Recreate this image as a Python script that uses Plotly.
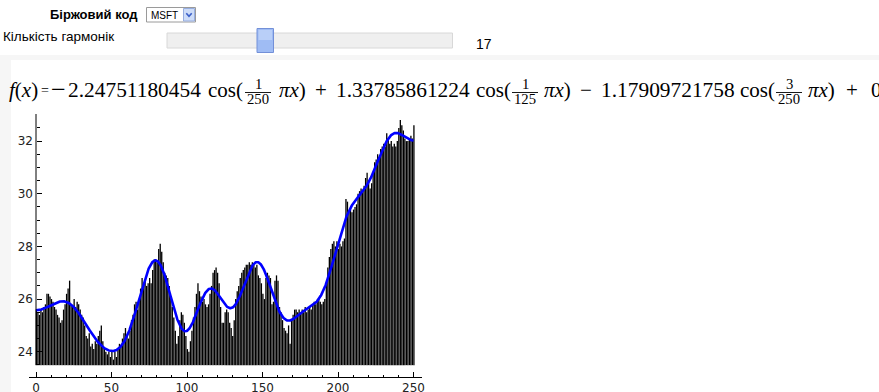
import numpy as np
import plotly.graph_objects as go

# ---------------- data ----------------
symbols = ["MSFT"]
harmonics = 17
prices = [
    25.6, 25.5, 25.4, 25.6, 25.5, 25.7, 25.8, 26.2, 26.2, 26.1,
    26.0, 25.9, 25.7, 25.6, 25.4, 25.3, 25.1, 25.2, 25.6, 25.8,
    26.2, 26.4, 26.7, 25.8, 25.7, 26.0, 25.7, 25.9, 25.8, 25.6,
    25.4, 25.3, 25.0, 24.6, 24.5, 24.7, 24.2, 24.3, 24.1, 24.4,
    24.3, 24.6, 24.8, 25.0, 24.4, 24.1, 24.0, 23.9, 24.0, 23.8,
    24.0, 23.7, 24.0, 23.8, 24.1, 24.3, 24.2, 24.5, 24.7, 24.9,
    24.6, 24.5, 24.8, 25.2, 25.4, 25.8, 25.9, 25.6, 26.0, 26.4,
    26.8, 26.6, 26.7, 26.5, 26.6, 26.8, 26.6, 27.1, 27.5, 27.5,
    27.4, 27.9, 28.1, 27.8, 27.4, 27.0, 26.9, 26.8, 26.5, 26.0,
    25.7, 25.3, 24.8, 24.3, 24.6, 25.2, 25.5, 25.4, 25.1, 24.6,
    24.1, 24.0, 24.4, 24.8, 25.3, 25.7, 26.2, 26.6, 26.3, 26.1,
    25.9, 26.0, 25.8, 25.7, 25.8, 26.2, 26.5, 27.0, 27.1, 27.2,
    27.0, 26.6, 25.7, 25.1, 25.1, 25.5, 25.6, 25.5, 25.1, 24.9,
    24.6, 25.2, 26.0, 26.3, 26.5, 26.8, 27.0, 27.1, 27.2, 27.3,
    27.3, 27.4, 27.3, 27.4, 27.3, 27.2, 27.3, 26.9, 26.8, 26.6,
    26.2, 26.0, 26.8, 27.0, 26.9, 26.8, 25.8, 25.9, 26.7, 26.9,
    26.7, 25.7, 25.5, 25.2, 24.9, 24.8, 24.7, 25.0, 24.3, 25.2,
    25.4, 25.6, 25.6, 25.5, 25.6, 25.5, 25.6, 25.5, 25.7, 25.5,
    25.6, 25.7, 25.6, 25.8, 25.9, 25.8, 25.9, 26.0, 25.9, 25.8,
    25.9, 26.0, 26.6, 27.2, 27.6, 27.9, 28.1, 28.2, 28.0, 28.2,
    27.9, 28.1, 28.0, 28.2, 28.3, 29.8, 29.7, 29.3, 29.4, 29.3,
    29.4, 29.5, 29.6, 30.0, 30.1, 30.2, 30.1, 30.3, 30.6, 30.8,
    30.5, 30.2, 30.4, 30.8, 31.2, 31.3, 31.5, 31.4, 31.7, 31.8,
    31.9, 31.8, 32.3, 32.1, 31.9, 32.0, 31.8, 31.9, 31.8, 32.0,
    32.5, 32.8, 32.6, 32.4, 32.1, 32.0, 32.0, 32.1, 32.2, 32.1,
    32.6,
]
x_ticks = [0, 50, 100, 150, 200, 250]
y_ticks = [24, 26, 28, 30, 32]
coef_text = ["2.24751180454", "1.33785861224", "1.17909721758"]
frac_num = ["1", "1", "3"]
frac_den = ["250", "125", "250"]
labels = {"symbol": "Біржовий код", "harm": "Кількість гармонік"}

# ---------------- Fourier cosine partial sum of the step function ----------------
L = 250.0
v = np.array(prices[:250], dtype=float)
idx = np.arange(len(v))
a0 = 2.0 / L * v.sum()
xs = np.linspace(0, L, 1201)
fit = np.full_like(xs, a0 / 2.0)
for n in range(1, harmonics + 1):
    k = n * np.pi / L
    an = 2.0 / (n * np.pi) * np.sum(v * (np.sin(k * (idx + 1)) - np.sin(k * idx)))
    fit += an * np.cos(k * xs)

W, H = 879, 392
def px(x):
    return x / W
def py(y):
    return 1 - y / H

BAR_BASE = 23.49
fig = go.Figure()
fig.add_trace(go.Bar(
    x=[i + 0.25 for i in range(len(prices))],
    y=[p - BAR_BASE for p in prices],
    base=BAR_BASE, width=0.86,
    marker=dict(color="rgba(0,0,0,0.999)", line=dict(width=0)),
    hoverinfo="skip", showlegend=False,
))
fig.add_trace(go.Scatter(
    x=xs, y=fit, mode="lines",
    line=dict(color="#0000ff", width=2.6),
    hoverinfo="skip", showlegend=False,
))

tickfont = dict(family="DejaVu Sans", size=12, color="#222222")
fig.update_layout(
    template="none",
    width=W, height=H, margin=dict(l=0, r=0, t=0, b=0, pad=0, autoexpand=False),
    paper_bgcolor="white", plot_bgcolor="rgba(0,0,0,0)",
    bargap=0.1,
    xaxis=dict(
        domain=[px(29), px(422)], range=[-4.64, 255.6], automargin=False,
        showline=True, linecolor="black", linewidth=1,
        ticks="inside", ticklen=5, tickcolor="black", tickwidth=1,
        tickvals=x_ticks, ticktext=[str(t) for t in x_ticks],
        minor=dict(dtick=10, tick0=0, ticks="inside", ticklen=2.5, tickcolor="black"),
        showgrid=False, zeroline=False, tickfont=tickfont, ticklabelstandoff=0,
    ),
    yaxis=dict(
        domain=[py(377), py(114)], range=[23.04, 33.03], automargin=False,
        anchor="free", position=px(36), showline=False,
        ticks="inside", ticklen=5, tickcolor="black", tickwidth=1,
        tickvals=y_ticks, ticktext=[str(t) for t in y_ticks],
        minor=dict(dtick=0.5, tick0=0, ticks="inside", ticklen=2.5, tickcolor="black"),
        showgrid=False, zeroline=False, tickfont=tickfont, ticklabelstandoff=3,
    ),
)

shapes = []
# faint page-frame tint seen at the left edge
shapes.append(dict(type="rect", xref="paper", yref="paper", layer="below",
                   x0=0, x1=px(11), y0=0, y1=py(55), fillcolor="#f6f6f6", line=dict(width=0)))
shapes.append(dict(type="rect", xref="paper", yref="paper", layer="below",
                   x0=0, x1=1, y0=py(60), y1=py(55), fillcolor="#f6f6f6", line=dict(width=0)))
shapes.append(dict(type="line", xref="x", yref="y", x0=0, x1=0, y0=BAR_BASE, y1=33.03,
                   line=dict(color="black", width=1)))

# ---- widgets: dropdown and slider ----
shapes.append(dict(type="rect", xref="paper", yref="paper",
                   x0=px(146.5), x1=px(195.5), y0=py(22), y1=py(7.5),
                   fillcolor="white", line=dict(color="#9a9a9a", width=1)))
shapes.append(dict(type="rect", xref="paper", yref="paper",
                   x0=px(183.5), x1=px(194.5), y0=py(21), y1=py(8.5),
                   fillcolor="#cddcf8", line=dict(color="#97aee0", width=1)))
shapes.append(dict(type="path", xref="paper", yref="paper",
                   path="M %f,%f L %f,%f L %f,%f" % (px(186.3), py(13.2), px(189), py(16.2), px(191.7), py(13.2)),
                   line=dict(color="#3a5fc8", width=1.6)))
shapes.append(dict(type="rect", xref="paper", yref="paper",
                   x0=px(167), x1=px(452.5), y0=py(48), y1=py(33),
                   fillcolor="#efefef", line=dict(color="#d8d8d8", width=1)))
shapes.append(dict(type="rect", xref="paper", yref="paper",
                   x0=px(257), x1=px(273.5), y0=py(52.5), y1=py(28.5),
                   fillcolor="#9fbcf4", line=dict(color="#7390d8", width=1)))
shapes.append(dict(type="rect", xref="paper", yref="paper",
                   x0=px(258.5), x1=px(272), y0=py(40), y1=py(30),
                   fillcolor="#b9cff8", line=dict(width=0)))

annotations = []
def txt(x, y, s, size, family="Liberation Serif", anchor="left", color="black"):
    annotations.append(dict(xref="paper", yref="paper", x=px(x), y=py(y), text=s,
                            showarrow=False, xanchor=anchor, yanchor="middle",
                            font=dict(family=family, size=size, color=color),
                            borderpad=0))

txt(138.5, 14.5, "<b>" + labels["symbol"] + "</b>", 13, family="Liberation Sans", anchor="right")
txt(150, 15.5, symbols[0], 10, family="Liberation Sans")
txt(2, 37, labels["harm"], 13.5, family="Liberation Sans")
txt(475, 44, str(harmonics), 14, family="Liberation Sans")

# ---- formula line ----
S = 21
base = 97
cy = base - 0.34 * S
txt(8, cy, "<i>f</i>(<i>x</i>)", S)
txt(40, 95 - 0.34 * 14, "=", 14)
txt(50, cy, "\u2212", S * 1.25)
num_x = [67, 335.4, 599.7]
sign = ["", "+", "\u2212"]
cos_x = [206.5, 475, 739]
frac_c = [258, 525, 789]
pix_x = [277.5, 543, 807]
op_x = [None, 314.4, 578.7]
for t in range(3):
    if t > 0:
        txt(op_x[t], cy, sign[t], S)
    txt(num_x[t], cy, coef_text[t], 21.4)
    txt(cos_x[t], cy, "cos", S)
    txt(cos_x[t] + 28, cy, "(", S)
    fs = 14.7
    txt(frac_c[t], 88.7 - 0.34 * fs, frac_num[t], fs, anchor="center")
    txt(frac_c[t], 104 - 0.34 * fs, frac_den[t], fs, anchor="center")
    shapes.append(dict(type="line", xref="paper", yref="paper",
                       x0=px(frac_c[t] - 13), x1=px(frac_c[t] + 13), y0=py(92.5), y1=py(92.5),
                       line=dict(color="black", width=0.9)))
    txt(pix_x[t], cy, "<i>\u03c0x</i>)", S)
txt(845, cy, "+", S)
txt(870, cy, "0", S)

fig.update_layout(shapes=shapes, annotations=annotations)
fig.write_html("out.html", config={"displayModeBar": False},
               post_script="document.body.style.margin='0px';document.body.style.overflow='hidden';")
